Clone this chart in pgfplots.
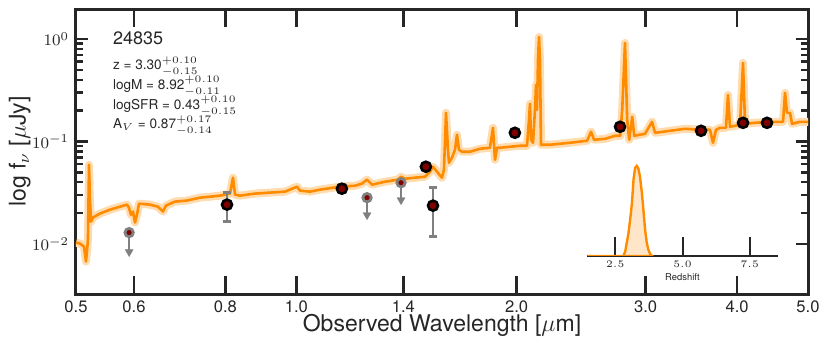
\documentclass[border=0pt]{standalone}
\usepackage{fontspec}
\setmainfont{TeX Gyre Heros}
\usepackage{pgfplots}
\pgfplotsset{compat=1.18}
\usepackage{pgfplotstable}

\definecolor{spec}{RGB}{255,140,0}
\definecolor{band}{RGB}{255,220,176}
\definecolor{pdffill}{RGB}{255,230,200}
\definecolor{ptred}{RGB}{128,0,0}
\definecolor{lim}{RGB}{128,128,128}
\definecolor{ax}{RGB}{38,38,38}

% best-fit model spectrum (wavelength in micron, flux in microJy)
\pgfplotstableread{
lam flux
0.5000 0.01032
0.5063 0.01009
0.5127 0.00943
0.5160 0.00674
0.5192 0.01104
0.5209 0.0593
0.5225 0.0271
0.5242 0.0165
0.5275 0.0181
0.5392 0.0198
0.5564 0.0216
0.5742 0.0231
0.5870 0.0242
0.5907 0.0226
0.5944 0.0193
0.5982 0.0207
0.6020 0.0162
0.6058 0.0193
0.6096 0.0247
0.6310 0.0242
0.6471 0.0231
0.6574 0.0207
0.6636 0.0237
0.6827 0.0259
0.7089 0.0265
0.7385 0.0283
0.7621 0.0289
0.7865 0.0296
0.8116 0.0310
0.8193 0.0443
0.8245 0.0303
0.8376 0.0296
0.8780 0.0310
0.9205 0.0317
0.9650 0.0324
1.0021 0.0362
1.0116 0.0331
1.0439 0.0324
1.0772 0.0339
1.1472 0.0362
1.2026 0.0370
1.2294 0.0388
1.2489 0.0424
1.2687 0.0379
1.3216 0.0405
1.3768 0.0424
1.3898 0.0453
1.4074 0.0433
1.4524 0.0443
1.4988 0.0453
1.5226 0.0507
1.5370 0.0567
1.5565 0.0507
1.5811 0.0443
1.5911 0.0530
1.6012 0.1903
1.6113 0.0830
1.6163 0.0620
1.6317 0.0694
1.6471 0.0830
1.6575 0.1162
1.6680 0.0830
1.6838 0.0794
1.7267 0.0794
1.7819 0.0849
1.8388 0.0868
1.8563 0.1359
1.8680 0.0663
1.8798 0.0868
1.8976 0.0868
1.9582 0.0888
2.0208 0.0908
2.0658 0.0908
2.0788 0.1627
2.0854 0.2329
2.0920 0.1039
2.1052 0.0971
2.1184 0.2035
2.1251 0.3565
2.1318 0.2035
2.1385 0.6245
2.1453 1.0459
2.1520 0.6245
2.1588 0.0929
2.2208 0.0929
2.3650 0.0971
2.4955 0.1016
2.5271 0.1243
2.5511 0.1039
2.6425 0.1062
2.7265 0.1136
2.7697 0.1136
2.7872 0.2035
2.8117 0.9142
2.8313 0.1627
2.8492 0.1039
2.8762 0.1740
2.8944 0.1136
2.9945 0.1188
3.0613 0.1555
3.0903 0.1215
3.2396 0.1271
3.3961 0.1329
3.5602 0.1300
3.6740 0.1300
3.7088 0.0971
3.7440 0.1300
3.7914 0.1359
3.8636 0.1359
3.8880 0.2849
3.9125 0.1390
4.0376 0.1454
4.0758 0.5838
4.1016 0.1487
4.2326 0.1521
4.4371 0.1555
4.6223 0.1555
4.6515 0.2980
4.6809 0.1903
4.7253 0.1903
4.7551 0.1487
4.8763 0.1555
5.0000 0.1555
}\spectrum

% photometry
\pgfplotstableread{
lam flux ep em
0.804 0.0242 0.0075 0.0077
1.154 0.0346 0.0033 0.0029
1.503 0.0567 0.0020 0.0020
1.537 0.02365 0.01175 0.01185
1.989 0.1215 0.0040 0.0040
2.768 0.1390 0.0040 0.0040
3.572 0.1271 0.0040 0.0040
4.076 0.1520 0.0040 0.0040
4.395 0.1520 0.0040 0.0040
}\detections

% upper limits: tip = centre of the arrow head
\pgfplotstableread{
lam flux em tip
0.591 0.01291 0.00455 0.00836
1.249 0.0283 0.00914 0.01916
1.390 0.0396 0.01277 0.02683
}\limits

% redshift probability
\pgfplotstableread{
z p
1.46 0
2.80 0
2.87 0.05
2.99 0.25
3.06 0.42
3.12 0.585
3.18 0.85
3.24 0.98
3.30 1.0
3.36 0.97
3.42 0.88
3.49 0.70
3.55 0.50
3.61 0.29
3.67 0.15
3.73 0.07
3.80 0.02
3.87 0
3.92 0
}\pz

\begin{document}
\begin{tikzpicture}
\useasboundingbox (-38pt,-29.5pt) rectangle (377pt,147pt);
\begin{axis}[
    scale only axis,
    width=366pt, height=142.5pt,
    xmode=log, ymode=log,
    xmin=0.5, xmax=5.0,
    ymin=3.25e-3, ymax=1.96,
    xtick={0.5,0.6,0.8,1.0,1.4,2.0,3.0,4.0,5.0},
    xticklabels={0.5,0.6,0.8,1.0,1.4,2.0,3.0,4.0,5.0},
    minor xtick={},
    ytick={0.01,0.1,1},
    tick align=inside,
    major tick length=6pt,
    minor tick length=3.5pt,
    xtick style={/pgfplots/major tick length=9pt},
    axis line style={ax, line width=1.5pt},
    tick style={ax, line width=1.2pt},
    xticklabel style={font=\fontsize{8.3}{10}\selectfont, text=ax},
    yticklabel style={font=\fontsize{8.5}{10}\selectfont, text=ax},
    xlabel={Observed Wavelength [$\mu$m]},
    ylabel={log f$_\nu$ [$\mu$Jy]},
    label style={font=\fontsize{11.5}{13}\selectfont, text=ax},
    xlabel style={at={(axis description cs:0.5,-0.109)}, anchor=center},
    ylabel style={at={(axis description cs:-0.077,0.5)}, anchor=center},
]
\addplot[band, line width=4pt, line join=round] table[x=lam, y=flux] {\spectrum};
\addplot[spec, line width=1.3pt, line join=round] table[x=lam, y=flux] {\spectrum};

\addplot[only marks, mark=*, mark size=2.1pt,
    mark options={fill=ptred, draw=lim, line width=1.4pt},
    error bars/.cd, y dir=minus, y explicit, error mark=none,
    error bar style={lim, line width=1pt}]
    table[x=lam, y=flux, y error minus=em] {\limits};
\addplot[only marks, mark=triangle*, mark size=2.3pt,
    mark options={fill=lim, draw=lim, rotate=180, line width=0.2pt}]
    table[x=lam, y=tip] {\limits};

\addplot[only marks, mark=*, mark size=2.5pt,
    mark options={fill=ptred, draw=black, line width=1.3pt},
    error bars/.cd, y dir=both, y explicit,
    error bar style={lim, line width=1.2pt},
    error mark options={rotate=90, lim, line width=1.2pt, mark size=2pt}]
    table[x=lam, y=flux, y error plus=ep, y error minus=em] {\detections};

\begin{scope}[every node/.style={anchor=west, inner sep=0pt, text=ax, font=\fontsize{6.8}{8}\selectfont}]
\node[font=\fontsize{9}{10}\selectfont] at (rel axis cs:0.05,0.897) {24835};
\node at (rel axis cs:0.05,0.798) {z = 3.30$^{+0.10}_{-0.15}$};
\node at (rel axis cs:0.05,0.730) {logM = 8.92$^{+0.10}_{-0.11}$};
\node at (rel axis cs:0.05,0.660) {logSFR = 0.43$^{+0.10}_{-0.15}$};
\node at (rel axis cs:0.05,0.592) {A$_V$ = 0.87$^{+0.17}_{-0.14}$};
\end{scope}
\end{axis}

% redshift inset
\begin{axis}[
    at={(255.5pt,19pt)}, anchor=south west,
    scale only axis,
    width=95.5pt, height=50pt,
    xmin=1.45, xmax=8.55, ymin=0, ymax=1.11,
    axis x line=bottom, axis y line=none,
    axis line style={-, ax, line width=1pt},
    xtick={2.5,5,7.5},
    tick align=inside,
    major tick length=9.5pt,
    tick style={ax, line width=1pt},
    xticklabel style={font=\fontsize{4.3}{5}\selectfont, text=ax, yshift=1pt,
        /pgf/number format/.cd, fixed, fixed zerofill, precision=1},
    xlabel={Redshift},
    xlabel style={font=\fontsize{4.7}{5}\selectfont, text=ax, yshift=4pt},
]
\addplot[draw=spec, line width=1.2pt, fill=pdffill] table[x=z, y=p] {\pz} \closedcycle;
\end{axis}
\end{tikzpicture}
\end{document}
